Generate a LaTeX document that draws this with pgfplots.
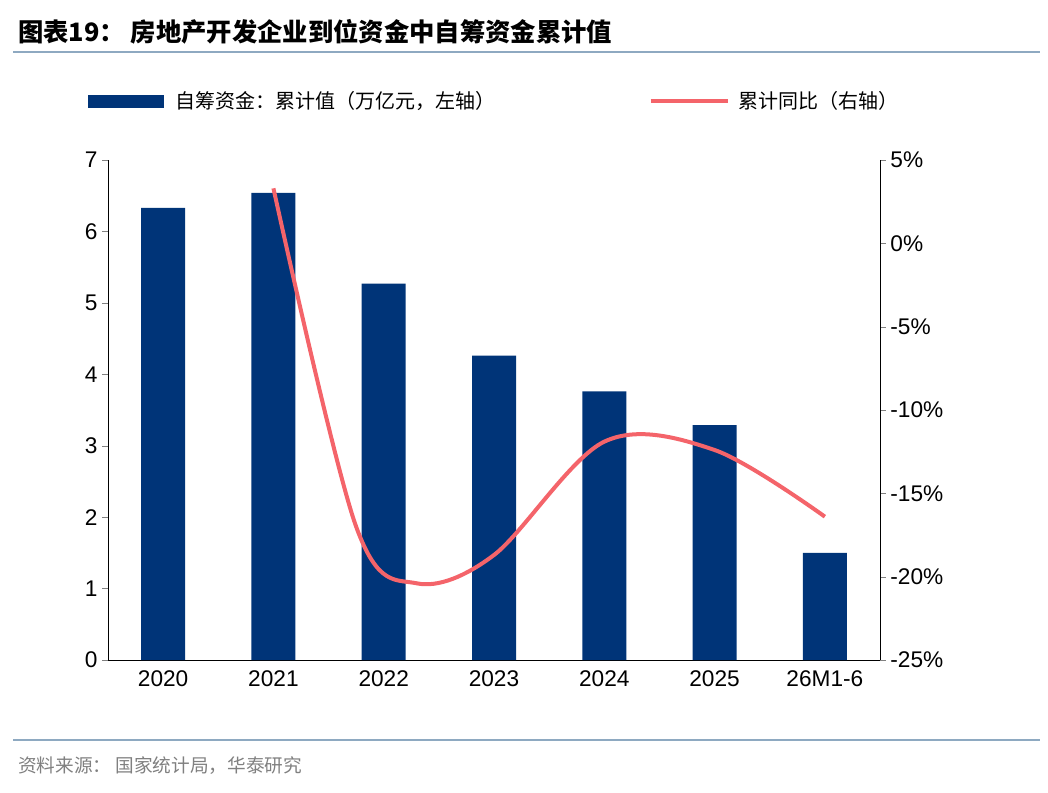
\documentclass[border=0pt]{standalone}
\usepackage{pgfplots}
\pgfplotsset{compat=1.18}
\usepackage{fontspec}
\setmainfont{Liberation Sans}
\newfontfamily\cjk{Noto Sans CJK SC}
\definecolor{bar}{HTML}{003478}
\definecolor{ln}{HTML}{F4646A}
\definecolor{rule}{HTML}{8EA9C1}
\begin{document}
\begin{tikzpicture}
\path (0pt,0pt) rectangle (786pt,594pt);
\node[anchor=west,font=\cjk\bfseries\fontsize{19}{21}\selectfont] at (10pt,570pt) {图表19：\ 房地产开发企业到位资金中自筹资金累计值};
\draw[rule,line width=1.5pt] (10pt,555pt) -- (780pt,555pt);
\draw[rule,line width=1.5pt] (10pt,39pt) -- (780pt,39pt);
\node[anchor=west,text=gray,font=\cjk\fontsize{14}{16}\selectfont] at (10pt,20pt) {资料来源：\ 国家统计局，华泰研究};
\fill[bar] (66pt,513pt) rectangle (123pt,523pt);
\node[anchor=west,font=\cjk\fontsize{15}{17}\selectfont] at (128pt,518pt) {自筹资金：累计值（万亿元，左轴）};
\draw[ln,line width=3pt] (488pt,518pt) -- (546pt,518pt);
\node[anchor=west,font=\cjk\fontsize{15}{17}\selectfont] at (550pt,518pt) {累计同比（右轴）};
\begin{axis}[at={(81pt,99pt)},anchor=south west,scale only axis,width=579pt,height=375pt,
 xmin=-0.5,xmax=6.5,ymin=0,ymax=7,ytick={0,...,7},
 axis x line*=bottom, axis y line*=left, tick align=outside,
 xtick={0,...,6},xticklabels={2020,2021,2022,2023,2024,2025,26M1-6},
 major x tick style={draw=none},
 extra x ticks={-0.5,0.5,1.5,2.5,3.5,4.5,5.5,6.5},extra x tick labels={},
 extra x tick style={major tick length=6pt,tick style={draw=black}},
 ticklabel style={font=\fontsize{17}{19}\selectfont},
 /pgf/number format/assume math mode=true]
\addplot[ybar,bar width=33pt,fill=bar,draw=none] coordinates {(0,6.33)(1,6.54)(2,5.27)(3,4.26)(4,3.76)(5,3.29)(6,1.50)};
\end{axis}
\begin{axis}[at={(81pt,99pt)},anchor=south west,scale only axis,width=579pt,height=375pt,
 xmin=-0.5,xmax=6.5,ymin=-25,ymax=5,ytick={-25,-20,...,5},
 axis y line*=right, axis x line=none, tick align=outside,
 yticklabel={\pgfmathprintnumber{\tick}\%},
 ticklabel style={font=\fontsize{17}{19}\selectfont},
 /pgf/number format/assume math mode=true]
\addplot[ln,line width=3pt,smooth,tension=0.55] coordinates {(1,3.3)(1.75,-17)(2.3,-20.4)(3,-18.7)(4,-11.9)(5,-12.4)(6,-16.4)};
\end{axis}
\end{tikzpicture}
\end{document}
